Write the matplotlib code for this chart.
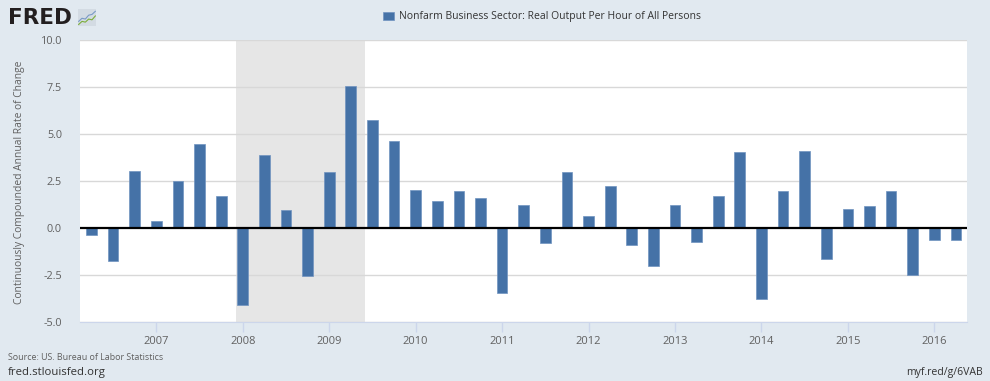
import numpy as np
import matplotlib
matplotlib.use("Agg")
import matplotlib.pyplot as plt

plt.rcParams['font.family'] = ['Open Sans', 'DejaVu Sans']

# quarterly data, 2006Q2 .. 2016Q2
start_year = 2006
start_quarter = 2
values = [-0.35, -1.76, 3.05, 0.39, 2.50, 4.49, 1.70, -4.10, 3.87, 0.98,
          -2.54, 3.00, 7.57, 5.74, 4.63, 2.02, 1.45, 1.98, 1.57, -3.46,
          1.25, -0.82, 2.98, 0.63, 2.25, -0.91, -2.04, 1.21, -0.73, 1.71,
          4.02, -3.80, 1.98, 4.07, -1.63, 1.02, 1.18, 1.95, -2.52, -0.64,
          -0.64]
year_ticks = list(range(2007, 2017))
y_ticks = [-5.0, -2.5, 0.0, 2.5, 5.0, 7.5, 10.0]
recession = (2007 + 11/12, 2009 + 5/12)  # Dec 2007 - Jun 2009

series_name = "Nonfarm Business Sector: Real Output Per Hour of All Persons"
y_title = "Continuously Compounded Annual Rate of Change"

# fractional year for each quarter start
x = np.array([start_year + (start_quarter - 1 + i) / 4 for i in range(len(values))])

bg = '#e1e9f0'
bar_col = '#4572a7'

fig = plt.figure(figsize=(9.9, 3.81), dpi=100, facecolor=bg)
ax = fig.add_axes([80/990, 1 - 322/381, 887/990, 282/381])
ax.set_facecolor('white')

ax.axvspan(recession[0], recession[1], color='#e6e6e6', zorder=0, lw=0)
for t in y_ticks:
    if t != 0:
        ax.axhline(t, color='#d8d8d8', lw=1, zorder=1)
ax.bar(x, values, width=0.124, color=bar_col, edgecolor='#7093c0', lw=0.5,
       zorder=2, label=series_name)
ax.axhline(0, color='black', lw=1.6, zorder=3)

ax.set_xlim(2006.117, 2016.378)
ax.set_ylim(-5, 10)
ax.set_xticks(year_ticks)
ax.set_xticklabels([str(y) for y in year_ticks])
ax.set_yticks(y_ticks)
ax.set_yticklabels(['%.1f' % t for t in y_ticks])

for s in ['top', 'right', 'left']:
    ax.spines[s].set_visible(False)
ax.spines['bottom'].set_color('#ccd6eb')
ax.tick_params(axis='x', colors='#ccd6eb', length=7, width=1, labelcolor='#606060',
               labelsize=8, pad=3)
ax.tick_params(axis='y', length=0, labelcolor='#606060', labelsize=7.8, pad=13)

fig.text(20/990, 1 - 182/381, y_title, rotation=90, ha='center', va='center',
         fontsize=7.4, color='#606060')

fig.legend(loc='center', bbox_to_anchor=(542/990, 1 - 17/381), frameon=False,
           fontsize=7.5, handlelength=1.1, handleheight=0.85, handletextpad=0.45,
           labelcolor='#333333')

# FRED logo
fig.text(8/990, 1 - 17.5/381, 'FRED', fontsize=15.5, fontweight='bold', color='#231f20',
         ha='left', va='center', family='DejaVu Sans')
logo_x = [0, 1, 2, 3, 4, 5]
logo_blue = [0.3, 0.5, 0.45, 0.7, 0.75, 0.95]
logo_green = [0.1, 0.3, 0.25, 0.45, 0.4, 0.65]
lax = fig.add_axes([78/990, 1 - 26/381, 18/990, 17/381])
lax.plot(logo_x, logo_blue, color='#7a9ac6', lw=0.8)
lax.plot(logo_x, logo_green, color='#7cae3a', lw=0.8)
lax.set_xlim(-0.2, 5.2)
lax.set_ylim(0, 1.1)
lax.set_xticks([])
lax.set_yticks([])
for s in lax.spines.values():
    s.set_visible(False)
lax.set_facecolor('#d3dbe3')

fig.text(8/990, 1 - 357/381, 'Source: US. Bureau of Labor Statistics', fontsize=6.4,
         color='#606060', ha='left', va='center')
fig.text(8/990, 1 - 373/381, 'fred.stlouisfed.org', fontsize=8.2,
         color='#333333', ha='left', va='center')
fig.text(983/990, 1 - 373/381, 'myf.red/g/6VAB', fontsize=7.6,
         color='#333333', ha='right', va='center')

fig.savefig('out.png', dpi=100, facecolor=bg)
